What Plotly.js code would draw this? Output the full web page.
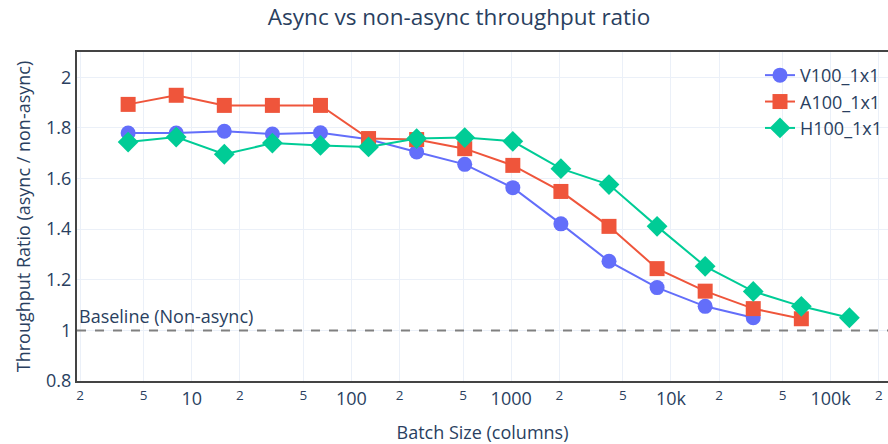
<!DOCTYPE html>
<html><head><meta charset="utf-8">
<script src="https://cdn.plot.ly/plotly-3.0.1.min.js"></script>
<style>html,body{margin:0;padding:0;overflow:hidden;background:#fff}</style>
</head><body><div id="chart" style="width:888px;height:444px"></div>
<script>
const batchV100 = [4, 8, 16, 32, 64, 128, 256, 512, 1024, 2048, 4096, 8192, 16384, 32768];
const ratioV100 = [1.780, 1.780, 1.787, 1.776, 1.781, 1.755, 1.705, 1.656, 1.564, 1.421, 1.273, 1.169, 1.095, 1.050];
const batchA100 = [4, 8, 16, 32, 64, 128, 256, 512, 1024, 2048, 4096, 8192, 16384, 32768, 65536];
const ratioA100 = [1.893, 1.929, 1.889, 1.889, 1.889, 1.758, 1.754, 1.718, 1.652, 1.549, 1.411, 1.244, 1.155, 1.086, 1.046];
const batchH100 = [4, 8, 16, 32, 64, 128, 256, 512, 1024, 2048, 4096, 8192, 16384, 32768, 65536, 131072];
const ratioH100 = [1.744, 1.764, 1.696, 1.740, 1.731, 1.725, 1.758, 1.762, 1.747, 1.639, 1.576, 1.411, 1.253, 1.154, 1.095, 1.050];
const seriesNames = ["V100_1x1", "A100_1x1", "H100_1x1"];
const baselineValue = 1;
const baselineLabel = "Baseline (Non-async)";

const colors = ["#636efa", "#EF553B", "#00cc96"];
const symbols = ["circle", "square", "diamond"];
const xs = [batchV100, batchA100, batchH100];
const ys = [ratioV100, ratioA100, ratioH100];

const traces = seriesNames.map((n, i) => ({
  type: "scatter", mode: "lines+markers", name: n,
  x: xs[i], y: ys[i],
  line: {color: colors[i], width: 2},
  marker: {color: colors[i], symbol: symbols[i], size: i === 2 ? 16 : 15}
}));

const layout = {
  width: 888, height: 444,
  margin: {l: 77, r: 0, t: 52, b: 63},
  paper_bgcolor: "#fff", plot_bgcolor: "#fff",
  font: {family: '"Open Sans", verdana, arial, sans-serif', color: "#2a3f5f", size: 18},
  title: {text: "Async vs non-async throughput ratio", x: 0.517, xanchor: "center", y: 0.962, yanchor: "middle", font: {size: 22.5, color: "#2a3f5f"}},
  xaxis: {
    type: "log", range: [0.282, 5.359], dtick: "D2",
    title: {text: "Batch Size (columns)", font: {size: 18}},
    tickfont: {size: 18},
    showgrid: true, gridcolor: "#EBF0F8", gridwidth: 1,
    showline: true, linecolor: "#444", linewidth: 2, mirror: true,
    zeroline: false, ticks: ""
  },
  yaxis: {
    range: [0.8, 2.1], dtick: 0.2,
    title: {text: "Throughput Ratio (async / non-async)", font: {size: 18}},
    tickfont: {size: 18},
    showgrid: true, gridcolor: "#EBF0F8", gridwidth: 1,
    showline: true, linecolor: "#444", linewidth: 2,
    zeroline: false, ticks: ""
  },
  legend: {x: 1, xanchor: "right", y: 0.985, yanchor: "top", bgcolor: "rgba(255,255,255,0)", font: {size: 18}},
  shapes: [{
    type: "line", xref: "paper", x0: 0, x1: 1, yref: "y", y0: baselineValue, y1: baselineValue,
    line: {color: "gray", width: 2, dash: "dash"}
  }],
  annotations: [{
    xref: "paper", x: 0, xanchor: "left", yref: "y", y: baselineValue, yanchor: "bottom",
    text: baselineLabel, showarrow: false, font: {size: 18, color: "#2a3f5f"}
  }]
};
Plotly.newPlot("chart", traces, layout, {displayModeBar: false, staticPlot: true});
</script></body></html>
